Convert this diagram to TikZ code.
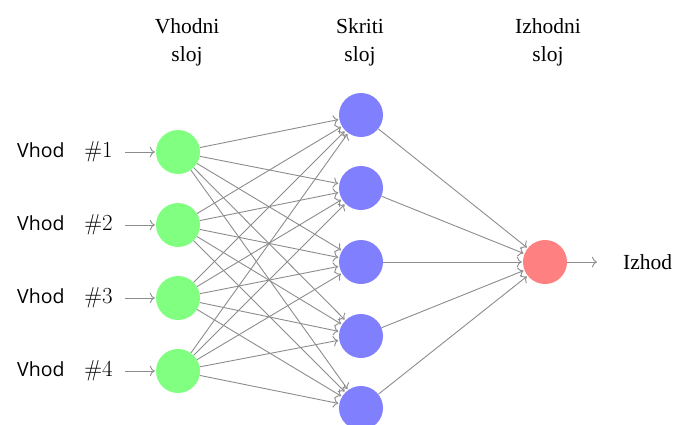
\documentclass[tikz,border=0pt]{standalone}
\usepackage{fontspec}
\newfontfamily\serifc{Liberation Serif}
\newfontfamily\sansc{Open Sans}
\newfontfamily\lmr{Latin Modern Roman}
\usetikzlibrary{arrows.meta}
\begin{document}
\begin{tikzpicture}[x=1pt,y=-1pt,
  neuron/.style={circle,minimum size=44pt,inner sep=0pt},
  inneuron/.style={neuron,fill=green!50},
  hidneuron/.style={neuron,fill=blue!50},
  outneuron/.style={neuron,fill=red!50},
  conn/.style={draw=black!45,line width=0.9pt,-{To[scale=1.4]},shorten >=1pt},
  header/.style={font=\serifc\fontsize{21.5}{28}\selectfont,align=center},
  inlabel/.style={anchor=east,inner sep=0pt}
]
\useasboundingbox (0,0) rectangle (676,424);
% headers
\node[header] (h1) at (187,42) {Vhodni\\sloj};
\node[header] (h2) at (360,42) {Skriti\\sloj};
\node[header] (h3) at (548,42) {Izhodni\\sloj};
% input layer
\foreach \i/\y in {1/152,2/225,3/298,4/371}{
  \node[inneuron] (in\i) at (178,\y) {};
  \node[inlabel] (lab\i) at (113,\y) {{\sansc\fontsize{19.5}{20}\selectfont Vhod}\hspace{20pt}{\lmr\fontsize{23}{27}\selectfont\#\i}};
  \draw[conn,shorten <=12pt] (lab\i.east) -- (in\i);
}
% hidden layer
\foreach \j/\y in {1/115,2/188,3/262,4/336,5/408}{
  \node[hidneuron] (hid\j) at (361,\y) {};
}
% output
\node[outneuron] (out) at (545,262) {};
\node[anchor=base west,inner sep=0pt,font=\serifc\fontsize{21.5}{26}\selectfont] (izhod) at (623,269) {Izhod};
\coordinate (outend) at (598,262);
\draw[conn] (out) -- (outend);
% connections
\foreach \i in {1,...,4}{
  \foreach \j in {1,...,5}{
    \draw[conn] (in\i) -- (hid\j);
  }
}
\foreach \j in {1,...,5}{
  \draw[conn] (hid\j) -- (out);
}
\end{tikzpicture}
\end{document}
